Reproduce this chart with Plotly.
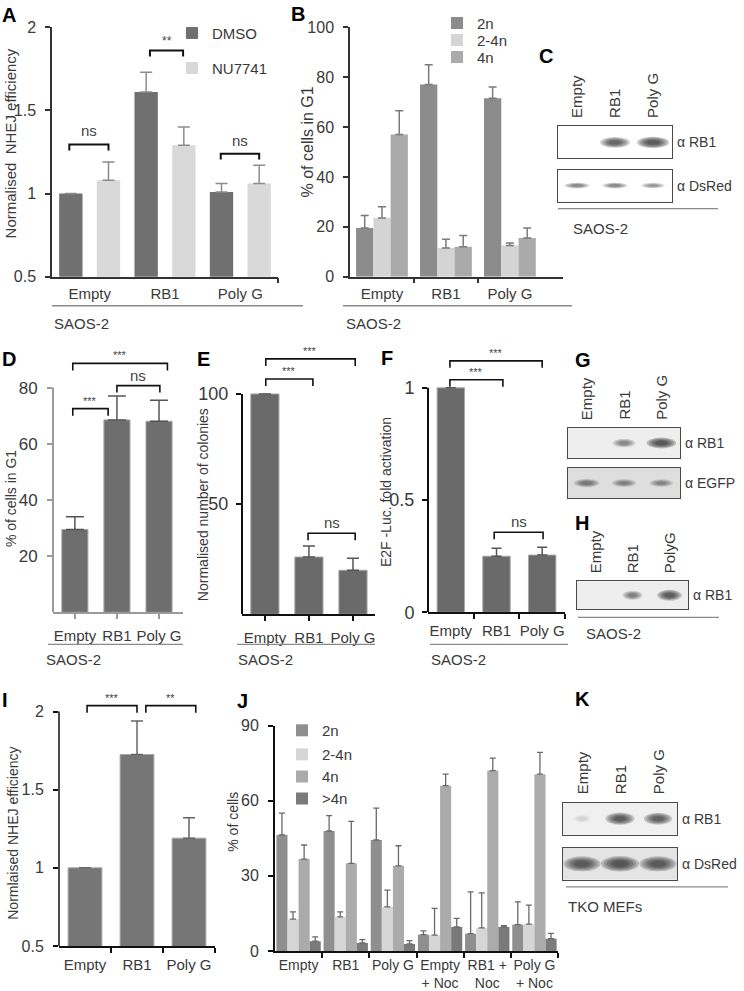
import plotly.graph_objects as go

W, H = 744, 991
# the photographed page shows page row y at picture row CAL_A + CAL_B * y;
# positions below are picture rows of the reference, mapped back to page rows
CAL_A, CAL_B = 7.8, 0.98
FONT = "Liberation Sans, Arial, Helvetica, sans-serif"
INK = "#3a3a3a"

# ---------------- data ----------------
cats3 = ["Empty", "RB1", "Poly G"]

a_dmso = [1.00, 1.61, 1.01]
a_dmso_err = [None, 0.12, 0.05]
a_nu = [1.08, 1.29, 1.06]
a_nu_err = [0.11, 0.11, 0.11]

b_2n = [19.5, 77.0, 71.5]
b_2n_err = [5.0, 8.0, 4.5]
b_24n = [23.5, 11.5, 12.5]
b_24n_err = [4.5, 3.5, 1.0]
b_4n = [57.0, 12.0, 15.5]
b_4n_err = [9.5, 4.5, 4.0]

d_vals = [29.5, 68.5, 68.0]
d_err = [4.5, 8.5, 7.5]
e_vals = [100.0, 26.0, 20.0]
e_err = [None, 5.0, 5.5]
f_vals = [1.0, 0.25, 0.255]
f_err = [None, 0.035, 0.035]
i_vals = [1.0, 1.725, 1.19]
i_err = [None, 0.215, 0.13]

j_cats = ["Empty", "RB1", "Poly G", "Empty<br>+ Noc", "RB1 +<br>Noc", "Poly G<br>+ Noc"]
j_2n = [46.3, 47.9, 44.3, 6.5, 6.9, 10.5]
j_2n_err = [8.7, 6.1, 12.7, 1.5, 16.7, 9.1]
j_24n = [12.7, 13.6, 17.6, 6.3, 9.2, 10.7]
j_24n_err = [2.9, 2.0, 6.7, 10.7, 14.0, 7.6]
j_4n = [36.7, 35.0, 34.0, 66.0, 72.0, 70.6]
j_4n_err = [5.6, 16.7, 8.0, 4.6, 5.0, 8.7]
j_g4n = [3.9, 3.2, 2.8, 9.6, 9.6, 4.9]
j_g4n_err = [1.7, 1.3, 1.3, 3.4, 0.5, 2.1]

# western blot band intensities (lanes: Empty, RB1, Poly G)
blot_lanes = ["Empty", "RB1", "Poly G"]
c_rb1 = [0.0, 0.85, 1.0]
c_dsred = [0.55, 0.55, 0.45]
g_rb1 = [0.0, 0.5, 1.0]
g_egfp = [0.6, 0.5, 0.45]
h_lanes = ["Empty", "RB1", "PolyG"]
h_rb1 = [0.0, 0.55, 0.95]
k_rb1 = [0.03, 0.9, 0.85]
k_dsred = [0.95, 1.0, 0.95]

# ---------------- helpers (picture pixel -> paper) ----------------
fig = go.Figure()
shapes, annotations = [], []
layout = dict(width=W, height=H, margin=dict(l=0, r=0, t=0, b=0),
              paper_bgcolor="white", plot_bgcolor="white", barmode="overlay",
              font=dict(family=FONT, color=INK), hovermode=False)


def px(x):
    return x / W


def py(y):
    page_y = (y - CAL_A) / CAL_B
    return 1 - page_y / H


def xdom(a, b):
    return [px(a), px(b)]


def ydom(top, bot):
    return [py(bot), py(top)]


def text(x, y, s, size=15, xanchor="left", yanchor="middle", angle=0, bold=False, color=INK,
         ref=("paper", "paper"), **kw):
    if bold:
        s = "<b>" + s + "</b>"
    if ref[0] == "paper":
        x = px(x)
    if ref[1] == "paper":
        y = py(y)
    annotations.append(dict(x=x, y=y, xref=ref[0], yref=ref[1], text=s, showarrow=False,
                            xanchor=xanchor, yanchor=yanchor, textangle=angle, borderpad=0,
                            font=dict(size=size, color=color, family=FONT), **kw))


def hline(x0, x1, y, color="#8a8a8a", width=1.3):
    shapes.append(dict(type="line", xref="paper", yref="paper", x0=px(x0), x1=px(x1), y0=py(y), y1=py(y),
                       line=dict(color=color, width=width)))


def axis_pair(n, xd, yd, xr, yr, xticks, xlabels, yticks, col="#333", lw=1.5,
              xfont=15, yfont=15, xtickmode="none", boundaries=None, yline=True, ylabelgap=4, xlabelgap=5):
    sx = "" if n == 1 else str(n)
    xa = dict(domain=xd, range=xr, anchor="y" + sx, tickmode="array", tickvals=xticks, ticktext=xlabels,
              showline=True, linecolor=col, linewidth=lw, showgrid=False, zeroline=False,
              tickfont=dict(size=xfont, color=INK), ticklabelstandoff=xlabelgap, fixedrange=True)
    if xtickmode == "center":
        xa.update(ticks="outside", ticklen=5, tickcolor=col, tickwidth=lw)
    else:
        xa.update(ticks="")
    if boundaries:
        xa["minor"] = dict(tickmode="array", tickvals=boundaries, ticks="outside", ticklen=5,
                           tickcolor=col, tickwidth=lw, showgrid=False)
    ya = dict(domain=yd, range=yr, anchor="x" + sx, tickmode="array", tickvals=yticks,
              showline=yline, linecolor=col, linewidth=lw, showgrid=False, zeroline=False,
              ticks="outside", ticklen=5, tickcolor=col, tickwidth=lw,
              tickfont=dict(size=yfont, color=INK), ticklabelstandoff=ylabelgap, fixedrange=True)
    layout["xaxis" + sx] = xa
    layout["yaxis" + sx] = ya
    return "x" + sx, "y" + sx


def spine(xa, ya, y0, y1, col, lw):
    shapes.append(dict(type="line", xref=xa + " domain", yref=ya, x0=0, x1=0, y0=y0, y1=y1,
                       line=dict(color=col, width=lw)))


def bracket(xa, ya, x0, x1, y, drop, label, size=12, lw=2.0, gap=1):
    fig.add_trace(go.Scatter(x=[x0, x0, x1, x1], y=[y - drop, y, y, y - drop], mode="lines",
                             line=dict(color="#111", width=lw), xaxis=xa, yaxis=ya,
                             showlegend=False, hoverinfo="skip", cliponaxis=False))
    text((x0 + x1) / 2, y, label, size=size, xanchor="center", yanchor="bottom", ref=(xa, ya),
         yshift=gap, color="#444")


def errs(arr, col, thick=1.5, width=5):
    return dict(type="data", symmetric=False, array=arr, arrayminus=[0] * len(arr),
                color=col, thickness=thick, width=width, visible=True)


legend_count = [0]


def legend_slot(xsq, ysq, size=15):
    """one legend box per entry, so each entry sits where the reference puts it"""
    legend_count[0] += 1
    key = "legend" if legend_count[0] == 1 else "legend%d" % legend_count[0]
    layout[key] = dict(bgcolor="rgba(0,0,0,0)", borderwidth=0, font=dict(size=size, color=INK, family=FONT),
                       x=px(xsq - 21), y=py(ysq), xanchor="left", yanchor="middle", itemwidth=30,
                       itemclick=False, itemdoubleclick=False)
    return key


pos3 = list(range(len(cats3)))
posj = list(range(len(j_cats)))

# ---------------- Panel A ----------------
xa, ya = axis_pair(1, xdom(52, 278), ydom(27, 276), [-0.5, 2.5], [0.5, 2.0], pos3, cats3,
                   [0.5, 1, 1.5, 2], col="#333", lw=1.5, xfont=15, yfont=16, boundaries=[2.5], ylabelgap=6, xlabelgap=3)
fig.add_trace(go.Bar(x=pos3, y=a_dmso, width=0.31, offset=-0.405, marker=dict(color="#707070", line=dict(width=0)),
                     error_y=errs(a_dmso_err, "#8c8c8c", 1.5, 6), name="DMSO", xaxis=xa, yaxis=ya,
                     legend=legend_slot(193, 33)))
fig.add_trace(go.Bar(x=pos3, y=a_nu, width=0.31, offset=0.095, marker=dict(color="#d9d9d9", line=dict(width=0)),
                     error_y=errs(a_nu_err, "#8c8c8c", 1.5, 6), name="NU7741", xaxis=xa, yaxis=ya,
                     legend=legend_slot(193, 68)))
bracket(xa, ya, -0.27, 0.25, 1.295, 0.036, "ns", size=15, gap=4)
bracket(xa, ya, 0.8, 1.24, 1.86, 0.036, "**", size=12, gap=2)
bracket(xa, ya, 1.74, 2.25, 1.24, 0.036, "ns", size=15, gap=4)
text(10, 143, "Normalised  NHEJ efficiency", size=15, xanchor="center", yanchor="middle", angle=-90)
text(1, 15, "A", size=20, bold=True, color="#000")
hline(52, 303, 305)
text(53, 323, "SAOS-2", size=15)

# ---------------- Panel B ----------------
xb, yb = axis_pair(2, xdom(350, 563), ydom(27, 276), [-0.5, 2.83], [0, 100], pos3, cats3,
                   [0, 20, 40, 60, 80, 100], col="#333", lw=1.5, xfont=15, yfont=16, boundaries=[0.5, 1.5],
                   ylabelgap=6, xlabelgap=3)
for vals, ev, col, nm, off, ysq in [(b_2n, b_2n_err, "#8c8c8c", "2n", -0.405, 23),
                                    (b_24n, b_24n_err, "#d4d4d4", "2-4n", -0.135, 40),
                                    (b_4n, b_4n_err, "#aaaaaa", "4n", 0.135, 57)]:
    fig.add_trace(go.Bar(x=pos3, y=vals, width=0.27, offset=off, marker=dict(color=col, line=dict(width=0)),
                         error_y=errs(ev, "#7a7a7a", 1.5, 4), name=nm, xaxis=xb, yaxis=yb,
                         legend=legend_slot(458, ysq)))
text(307, 142, "% of cells in G1", size=16, xanchor="center", angle=-90)
text(290, 14, "B", size=20, bold=True, color="#000")
hline(343, 572, 305)
text(345, 323, "SAOS-2", size=15)

# ---------------- Panel D ----------------
DCOL = "#9a9a9a"
xd_, yd_ = axis_pair(3, xdom(53, 183), ydom(353, 611), [-0.52, 2.57], [0, 92], pos3, cats3,
                     [20, 40, 60, 80], col=DCOL, lw=2, xfont=15, yfont=17, xtickmode="center", yline=False,
                     ylabelgap=6, xlabelgap=4)
spine(xd_, yd_, 0, 80, DCOL, 2)
fig.add_trace(go.Bar(x=pos3, y=d_vals, width=0.62, marker=dict(color="#6e6e6e", line=dict(width=1, color="#a8a8a8")),
                     error_y=errs(d_err, "#555", 1.5, 9), showlegend=False, xaxis=xd_, yaxis=yd_))
bracket(xd_, yd_, -0.05, 2.2, 88.6, 2.5, "***", size=11, lw=1.6, gap=1)
bracket(xd_, yd_, 1.0, 2.02, 80.7, 2.5, "ns", size=15, lw=1.6, gap=1)
bracket(xd_, yd_, -0.05, 0.79, 72.5, 2.5, "***", size=11, lw=1.6, gap=1)
text(11, 498, "% of cells in G1", size=14, xanchor="center", angle=-90)
text(1, 358, "D", size=20, bold=True, color="#000")
hline(48, 183, 643)
text(45, 658, "SAOS-2", size=15)

# ---------------- Panel E ----------------
xe, ye = axis_pair(4, xdom(242, 375), ydom(353, 613), [-0.52, 2.5], [0, 118.2], pos3, cats3,
                   [50, 100], col="#111", lw=2, xfont=15, yfont=18, xtickmode="center", yline=False,
                   ylabelgap=4, xlabelgap=4)
spine(xe, ye, 0, 100, "#111", 2)
fig.add_trace(go.Bar(x=pos3, y=e_vals, width=0.64, marker=dict(color="#6a6a6a", line=dict(width=1, color="#a8a8a8")),
                     error_y=errs(e_err, "#555", 1.5, 6), showlegend=False, xaxis=xe, yaxis=ye))
bracket(xe, ye, 0.02, 2.05, 115.9, 3.2, "***", size=11, lw=1.6, gap=1)
bracket(xe, ye, 0.02, 1.09, 106.8, 3.2, "***", size=11, lw=1.6, gap=1)
bracket(xe, ye, 0.98, 2.05, 36.8, 3.2, "ns", size=15, lw=1.6, gap=1)
text(203, 503, "Normalised number of colonies", size=14, xanchor="center", angle=-90)
text(196, 358, "E", size=20, bold=True, color="#000")
hline(237, 375, 643)
text(237, 658, "SAOS-2", size=15)

# ---------------- Panel F ----------------
xf, yf = axis_pair(5, xdom(428, 565), ydom(356, 611), [-0.5, 2.5], [0, 1.138], pos3, cats3,
                   [0, 0.5, 1], col="#111", lw=2, xfont=15, yfont=18, boundaries=[0.5, 1.5, 2.5], yline=False,
                   ylabelgap=4, xlabelgap=4)
spine(xf, yf, 0, 1, "#111", 2)
fig.add_trace(go.Bar(x=pos3, y=f_vals, width=0.6, marker=dict(color="#6a6a6a", line=dict(width=1, color="#a8a8a8")),
                     error_y=errs(f_err, "#555", 1.5, 5), showlegend=False, xaxis=xf, yaxis=yf))
bracket(xf, yf, -0.02, 2.0, 1.12, 0.031, "***", size=11, lw=1.6, gap=1)
bracket(xf, yf, -0.02, 1.14, 1.036, 0.031, "***", size=11, lw=1.6, gap=1)
bracket(xf, yf, 0.95, 2.02, 0.357, 0.031, "ns", size=15, lw=1.6, gap=1)
text(386, 491, "E2F -Luc. fold activation", size=14, xanchor="center", angle=-90)
text(380, 357, "F", size=20, bold=True, color="#000")
hline(430, 568, 643)
text(430, 658, "SAOS-2", size=15)

# ---------------- Panel I ----------------
xi, yi = axis_pair(6, xdom(59, 215), ydom(701, 944), [-0.5, 2.5], [0.5, 2.058], pos3, cats3,
                   [0.5, 1, 1.5, 2], col="#111", lw=1.5, xfont=15, yfont=16, boundaries=[0.5, 1.5, 2.5],
                   yline=False, ylabelgap=6, xlabelgap=4)
spine(xi, yi, 0.5, 2, "#111", 1.5)
fig.add_trace(go.Bar(x=pos3, y=i_vals, width=0.65, marker=dict(color="#767676", line=dict(width=1, color="#a8a8a8")),
                     error_y=errs(i_err, "#666", 1.5, 6), showlegend=False, xaxis=xi, yaxis=yi))
bracket(xi, yi, 0.04, 1.0, 2.038, 0.045, "***", size=11, lw=1.6, gap=1)
bracket(xi, yi, 1.17, 2.13, 2.038, 0.045, "**", size=11, lw=1.6, gap=1)
text(13, 832, "Normlaised NHEJ efficiency", size=14, xanchor="center", angle=-90)
text(1, 699, "I", size=20, bold=True, color="#000")

# ---------------- Panel J ----------------
xj, yj = axis_pair(7, xdom(275, 558), ydom(724, 949), [-0.5, 5.5], [0, 90], posj, j_cats,
                   [0, 30, 60, 90], col="#111", lw=2, xfont=14, yfont=16,
                   boundaries=[0.5, 1.5, 2.5, 3.5, 4.5, 5.5], ylabelgap=6, xlabelgap=0)
for vals, ev, col, nm, off, ysq in [(j_2n, j_2n_err, "#8f8f8f", "2n", -0.47, 729),
                                    (j_24n, j_24n_err, "#d6d6d6", "2-4n", -0.235, 753),
                                    (j_4n, j_4n_err, "#ababab", "4n", 0.0, 775),
                                    (j_g4n, j_g4n_err, "#7a7a7a", ">4n", 0.235, 797)]:
    fig.add_trace(go.Bar(x=posj, y=vals, width=0.235, offset=off, marker=dict(color=col, line=dict(width=0)),
                         error_y=errs(ev, "#6a6a6a", 1.3, 3), name=nm, xaxis=xj, yaxis=yj,
                         legend=legend_slot(303, ysq)))
text(233, 820, "% of cells", size=14, xanchor="center", angle=-90)
text(236, 700, "J", size=20, bold=True, color="#000")

# ---------------- Western blots ----------------
BAND = "#262626"


def blot(n, xd, yd, lanes_int, hw, hh, lane_labels=None, label=None, bg="#eeeeee", yc=0.5):
    sx = str(n)
    layout["xaxis" + sx] = dict(domain=xd, range=[-0.5, 2.5], anchor="y" + sx, showline=True, mirror=True,
                                linecolor="#4a4a4a", linewidth=1.3, showticklabels=False, ticks="",
                                showgrid=False, zeroline=False, fixedrange=True)
    layout["yaxis" + sx] = dict(domain=yd, range=[0, 1], anchor="x" + sx, showline=True, mirror=True,
                                linecolor="#4a4a4a", linewidth=1.3, showticklabels=False, ticks="",
                                showgrid=False, zeroline=False, fixedrange=True)
    shapes.append(dict(type="rect", xref="x" + sx + " domain", yref="y" + sx + " domain", x0=0, x1=1, y0=0, y1=1,
                       fillcolor=bg, line=dict(width=0), layer="below"))
    for lane, v in enumerate(lanes_int):
        if v <= 0:
            continue
        for s in [1.0, 0.85, 0.7, 0.55, 0.4]:
            w = hw * (0.55 + 0.45 * v) * s
            h = hh * (0.6 + 0.4 * v) * s
            shapes.append(dict(type="circle", xref="x" + sx, yref="y" + sx,
                               x0=lane - w, x1=lane + w, y0=yc - h, y1=yc + h,
                               fillcolor=BAND, opacity=min(1.0, 0.22 * v + 0.02), line=dict(width=0)))
    if lane_labels:
        for lane, lab in enumerate(lane_labels):
            text(lane, 1, lab, size=15, xanchor="center", yanchor="bottom", angle=-90,
                 ref=("x" + sx, "y" + sx + " domain"), yshift=7)
    if label:
        text(1, 0.5, label, size=14, xanchor="left", yanchor="middle",
             ref=("x" + sx + " domain", "y" + sx + " domain"), xshift=4)


# C
blot(8, xdom(558, 672), ydom(126, 158), c_rb1, 0.42, 0.18, blot_lanes, "α RB1", bg="#f0f0f0")
blot(9, xdom(558, 672), ydom(169, 201), c_dsred, 0.42, 0.11, None, "α DsRed", bg="#e6e6e6")
text(538, 56, "C", size=20, bold=True, color="#000")
hline(558, 718, 208)
text(572, 228, "SAOS-2", size=15)

# G
blot(10, xdom(568, 680), ydom(427, 457), g_rb1, 0.4, 0.18, blot_lanes, "α RB1", bg="#eeeeee")
blot(11, xdom(568, 680), ydom(467, 497), g_egfp, 0.42, 0.16, None, "α EGFP", bg="#dedede")
text(574, 359, "G", size=20, bold=True, color="#000")

# H
blot(12, xdom(577, 688), ydom(580, 608), h_rb1, 0.34, 0.2, h_lanes, "α RB1", bg="#eeeeee")
text(574, 522, "H", size=20, bold=True, color="#000")
hline(578, 719, 616)
text(585, 632, "SAOS-2", size=15)

# K
blot(13, xdom(563, 677), ydom(801, 833), k_rb1, 0.4, 0.2, blot_lanes, "α RB1", bg="#f0f0f0")
blot(14, xdom(563, 677), ydom(846, 878), k_dsred, 0.5, 0.24, None, "α DsRed", bg="#e4e4e4")
text(574, 698, "K", size=20, bold=True, color="#000")
hline(566, 728, 885)
text(567, 905, "TKO MEFs", size=15)

layout["shapes"] = shapes
layout["annotations"] = annotations
fig.update_layout(**layout)
fig.write_html("out.html", config={"displayModeBar": False},
               post_script="document.body.style.margin='0';document.body.style.overflow='hidden';")
